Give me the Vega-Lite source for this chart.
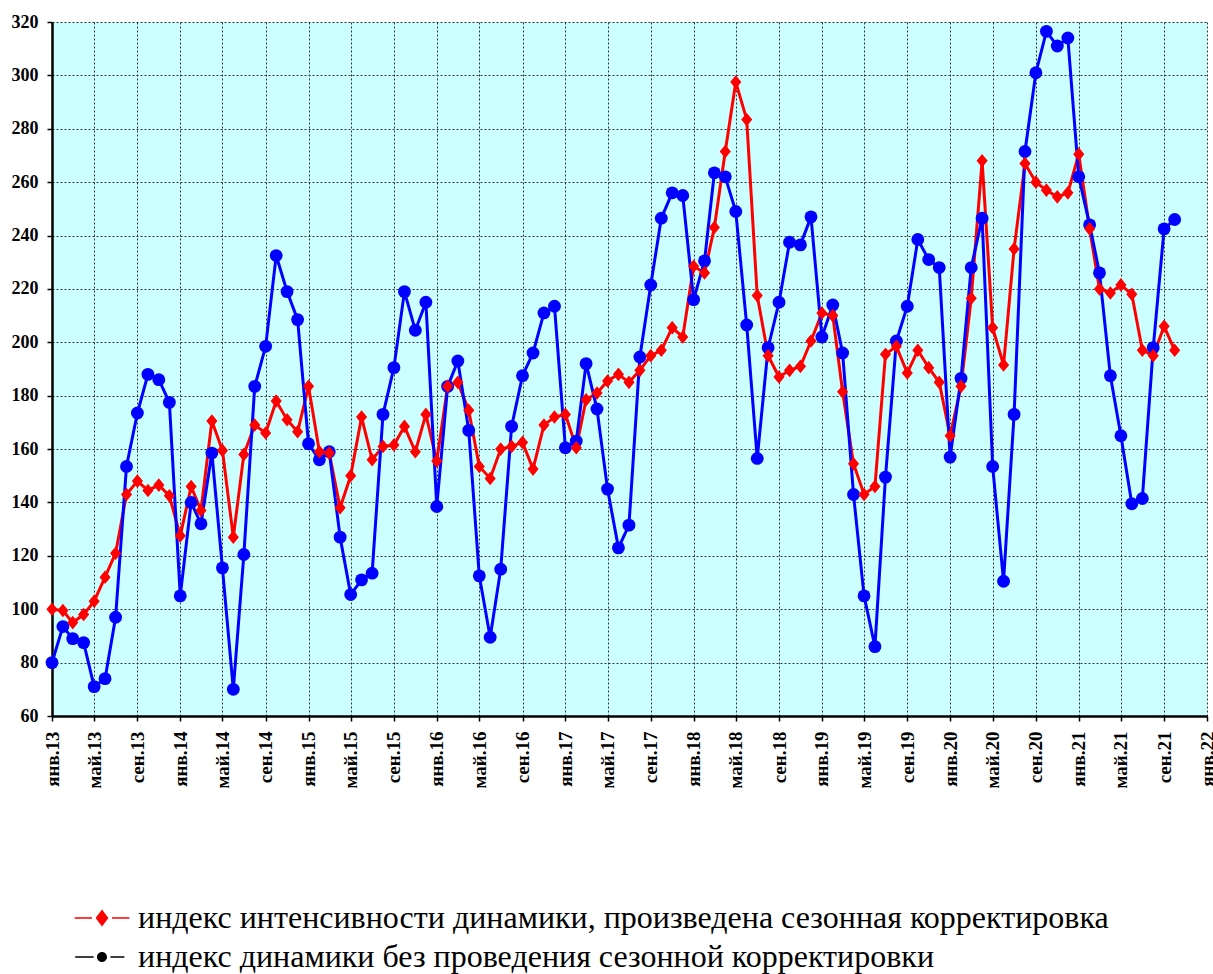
{
  "$schema": "https://vega.github.io/schema/vega-lite/v6.json",
  "width": 1155,
  "height": 694,
  "autosize": "none",
  "padding": {"left": 52, "top": 22, "right": 6, "bottom": 258},
  "background": "white",
  "config": {
    "view": {"fill": "#CCFFFF", "stroke": null},
    "axis": {
      "labelFont": "Liberation Serif, Times New Roman, Times, DejaVu Serif, serif",
      "labelFontWeight": "bold",
      "labelColor": "black",
      "tickColor": "black",
      "tickWidth": 1.5,
      "tickSize": 5,
      "domainColor": "black",
      "domainWidth": 2.5,
      "grid": true,
      "gridColor": "#333333",
      "gridDash": [2, 2],
      "gridWidth": 1,
      "title": null
    }
  },
  "data": {
    "values": [
      {"date": "2013-01-01", "seasonal": 100, "raw": 80},
      {"date": "2013-02-01", "seasonal": 99.5, "raw": 93.5},
      {"date": "2013-03-01", "seasonal": 95, "raw": 89},
      {"date": "2013-04-01", "seasonal": 98, "raw": 87.5},
      {"date": "2013-05-01", "seasonal": 103, "raw": 71},
      {"date": "2013-06-01", "seasonal": 112, "raw": 74},
      {"date": "2013-07-01", "seasonal": 121, "raw": 97},
      {"date": "2013-08-01", "seasonal": 143, "raw": 153.5},
      {"date": "2013-09-01", "seasonal": 148, "raw": 173.5},
      {"date": "2013-10-01", "seasonal": 144.5, "raw": 188},
      {"date": "2013-11-01", "seasonal": 146.5, "raw": 186},
      {"date": "2013-12-01", "seasonal": 142.5, "raw": 177.5},
      {"date": "2014-01-01", "seasonal": 127.5, "raw": 105},
      {"date": "2014-02-01", "seasonal": 146, "raw": 140},
      {"date": "2014-03-01", "seasonal": 137, "raw": 132},
      {"date": "2014-04-01", "seasonal": 170.5, "raw": 158.5},
      {"date": "2014-05-01", "seasonal": 159.5, "raw": 115.5},
      {"date": "2014-06-01", "seasonal": 127, "raw": 70},
      {"date": "2014-07-01", "seasonal": 158, "raw": 120.5},
      {"date": "2014-08-01", "seasonal": 169, "raw": 183.5},
      {"date": "2014-09-01", "seasonal": 166, "raw": 198.5},
      {"date": "2014-10-01", "seasonal": 178, "raw": 232.5},
      {"date": "2014-11-01", "seasonal": 171, "raw": 219},
      {"date": "2014-12-01", "seasonal": 166.5, "raw": 208.5},
      {"date": "2015-01-01", "seasonal": 183.5, "raw": 162},
      {"date": "2015-02-01", "seasonal": 159, "raw": 156},
      {"date": "2015-03-01", "seasonal": 158.5, "raw": 159},
      {"date": "2015-04-01", "seasonal": 138, "raw": 127},
      {"date": "2015-05-01", "seasonal": 150, "raw": 105.5},
      {"date": "2015-06-01", "seasonal": 172, "raw": 111},
      {"date": "2015-07-01", "seasonal": 156, "raw": 113.5},
      {"date": "2015-08-01", "seasonal": 161, "raw": 173},
      {"date": "2015-09-01", "seasonal": 161.5, "raw": 190.5},
      {"date": "2015-10-01", "seasonal": 168.5, "raw": 219},
      {"date": "2015-11-01", "seasonal": 159, "raw": 204.5},
      {"date": "2015-12-01", "seasonal": 173, "raw": 215},
      {"date": "2016-01-01", "seasonal": 155.5, "raw": 138.5},
      {"date": "2016-02-01", "seasonal": 183.5, "raw": 183.5},
      {"date": "2016-03-01", "seasonal": 185, "raw": 193},
      {"date": "2016-04-01", "seasonal": 174.5, "raw": 167},
      {"date": "2016-05-01", "seasonal": 153.5, "raw": 112.5},
      {"date": "2016-06-01", "seasonal": 149, "raw": 89.5},
      {"date": "2016-07-01", "seasonal": 160, "raw": 115},
      {"date": "2016-08-01", "seasonal": 161, "raw": 168.5},
      {"date": "2016-09-01", "seasonal": 162.5, "raw": 187.5},
      {"date": "2016-10-01", "seasonal": 152.5, "raw": 196},
      {"date": "2016-11-01", "seasonal": 169, "raw": 211},
      {"date": "2016-12-01", "seasonal": 172, "raw": 213.5},
      {"date": "2017-01-01", "seasonal": 173, "raw": 160.5},
      {"date": "2017-02-01", "seasonal": 160.5, "raw": 163},
      {"date": "2017-03-01", "seasonal": 178.5, "raw": 192},
      {"date": "2017-04-01", "seasonal": 181, "raw": 175},
      {"date": "2017-05-01", "seasonal": 185.5, "raw": 145},
      {"date": "2017-06-01", "seasonal": 188, "raw": 123},
      {"date": "2017-07-01", "seasonal": 185, "raw": 131.5},
      {"date": "2017-08-01", "seasonal": 189.5, "raw": 194.5},
      {"date": "2017-09-01", "seasonal": 195, "raw": 221.5},
      {"date": "2017-10-01", "seasonal": 197, "raw": 246.5},
      {"date": "2017-11-01", "seasonal": 205.5, "raw": 256},
      {"date": "2017-12-01", "seasonal": 202, "raw": 255},
      {"date": "2018-01-01", "seasonal": 228.5, "raw": 216},
      {"date": "2018-02-01", "seasonal": 226, "raw": 230.5},
      {"date": "2018-03-01", "seasonal": 243, "raw": 263.5},
      {"date": "2018-04-01", "seasonal": 271.5, "raw": 262},
      {"date": "2018-05-01", "seasonal": 297.5, "raw": 249},
      {"date": "2018-06-01", "seasonal": 283.5, "raw": 206.5},
      {"date": "2018-07-01", "seasonal": 217.5, "raw": 156.5},
      {"date": "2018-08-01", "seasonal": 195, "raw": 198},
      {"date": "2018-09-01", "seasonal": 187, "raw": 215},
      {"date": "2018-10-01", "seasonal": 189.5, "raw": 237.5},
      {"date": "2018-11-01", "seasonal": 191, "raw": 236.5},
      {"date": "2018-12-01", "seasonal": 200.5, "raw": 247},
      {"date": "2019-01-01", "seasonal": 211, "raw": 202},
      {"date": "2019-02-01", "seasonal": 210, "raw": 214},
      {"date": "2019-03-01", "seasonal": 181.5, "raw": 196},
      {"date": "2019-04-01", "seasonal": 154.5, "raw": 143},
      {"date": "2019-05-01", "seasonal": 143, "raw": 105},
      {"date": "2019-06-01", "seasonal": 146, "raw": 86},
      {"date": "2019-07-01", "seasonal": 195.5, "raw": 149.5},
      {"date": "2019-08-01", "seasonal": 198.5, "raw": 200.5},
      {"date": "2019-09-01", "seasonal": 188.5, "raw": 213.5},
      {"date": "2019-10-01", "seasonal": 197, "raw": 238.5},
      {"date": "2019-11-01", "seasonal": 190.5, "raw": 231},
      {"date": "2019-12-01", "seasonal": 185, "raw": 228},
      {"date": "2020-01-01", "seasonal": 165, "raw": 157},
      {"date": "2020-02-01", "seasonal": 183.5, "raw": 186.5},
      {"date": "2020-03-01", "seasonal": 216.5, "raw": 228},
      {"date": "2020-04-01", "seasonal": 268, "raw": 246.5},
      {"date": "2020-05-01", "seasonal": 205.5, "raw": 153.5},
      {"date": "2020-06-01", "seasonal": 191.5, "raw": 110.5},
      {"date": "2020-07-01", "seasonal": 235, "raw": 173},
      {"date": "2020-08-01", "seasonal": 267, "raw": 271.5},
      {"date": "2020-09-01", "seasonal": 260, "raw": 301},
      {"date": "2020-10-01", "seasonal": 257, "raw": 316.5},
      {"date": "2020-11-01", "seasonal": 254.5, "raw": 311},
      {"date": "2020-12-01", "seasonal": 256, "raw": 314},
      {"date": "2021-01-01", "seasonal": 270.5, "raw": 262},
      {"date": "2021-02-01", "seasonal": 242.5, "raw": 244},
      {"date": "2021-03-01", "seasonal": 220, "raw": 226},
      {"date": "2021-04-01", "seasonal": 218.5, "raw": 187.5},
      {"date": "2021-05-01", "seasonal": 221.5, "raw": 165},
      {"date": "2021-06-01", "seasonal": 218, "raw": 139.5},
      {"date": "2021-07-01", "seasonal": 197, "raw": 141.5},
      {"date": "2021-08-01", "seasonal": 195, "raw": 198},
      {"date": "2021-09-01", "seasonal": 206, "raw": 242.5},
      {"date": "2021-10-01", "seasonal": 197, "raw": 246}
    ]
  },
  "transform": [
    {"fold": ["seasonal", "raw"], "as": ["series", "value"]}
  ],
  "encoding": {
    "x": {
      "field": "date",
      "type": "temporal",
      "timeUnit": "utcyearmonth",
      "scale": {
        "type": "utc",
        "nice": false,
        "domain": [
          {"year": 2013, "month": 1, "date": 1, "utc": true},
          {"year": 2022, "month": 1, "date": 1, "utc": true}
        ]
      },
      "axis": {
        "values": [
          {"year": 2013, "month": 1, "date": 1, "utc": true},
          {"year": 2013, "month": 5, "date": 1, "utc": true},
          {"year": 2013, "month": 9, "date": 1, "utc": true},
          {"year": 2014, "month": 1, "date": 1, "utc": true},
          {"year": 2014, "month": 5, "date": 1, "utc": true},
          {"year": 2014, "month": 9, "date": 1, "utc": true},
          {"year": 2015, "month": 1, "date": 1, "utc": true},
          {"year": 2015, "month": 5, "date": 1, "utc": true},
          {"year": 2015, "month": 9, "date": 1, "utc": true},
          {"year": 2016, "month": 1, "date": 1, "utc": true},
          {"year": 2016, "month": 5, "date": 1, "utc": true},
          {"year": 2016, "month": 9, "date": 1, "utc": true},
          {"year": 2017, "month": 1, "date": 1, "utc": true},
          {"year": 2017, "month": 5, "date": 1, "utc": true},
          {"year": 2017, "month": 9, "date": 1, "utc": true},
          {"year": 2018, "month": 1, "date": 1, "utc": true},
          {"year": 2018, "month": 5, "date": 1, "utc": true},
          {"year": 2018, "month": 9, "date": 1, "utc": true},
          {"year": 2019, "month": 1, "date": 1, "utc": true},
          {"year": 2019, "month": 5, "date": 1, "utc": true},
          {"year": 2019, "month": 9, "date": 1, "utc": true},
          {"year": 2020, "month": 1, "date": 1, "utc": true},
          {"year": 2020, "month": 5, "date": 1, "utc": true},
          {"year": 2020, "month": 9, "date": 1, "utc": true},
          {"year": 2021, "month": 1, "date": 1, "utc": true},
          {"year": 2021, "month": 5, "date": 1, "utc": true},
          {"year": 2021, "month": 9, "date": 1, "utc": true},
          {"year": 2022, "month": 1, "date": 1, "utc": true}
        ],
        "labelExpr": "['янв.','фев.','мар.','апр.','май.','июн.','июл.','авг.','сен.','окт.','ноя.','дек.'][utcmonth(datum.value)] + utcFormat(datum.value, '%y')",
        "labelAngle": 270,
        "labelAlign": "right",
        "labelBaseline": "middle",
        "labelFontSize": 19,
        "labelPadding": 10,
        "labelOverlap": false,
        "labelFlush": false
      }
    },
    "y": {
      "field": "value",
      "type": "quantitative",
      "scale": {"domain": [60, 320], "nice": false, "zero": false},
      "axis": {
        "values": [60, 80, 100, 120, 140, 160, 180, 200, 220, 240, 260, 280, 300, 320],
        "labelFontSize": 18,
        "labelPadding": 9,
        "labelFlush": false
      }
    }
  },
  "layer": [
    {
      "mark": {"type": "line", "strokeWidth": 3},
      "encoding": {
        "stroke": {
          "field": "series",
          "type": "nominal",
          "sort": ["seasonal", "raw"],
          "scale": {"domain": ["seasonal", "raw"], "range": ["#FF0000", "#0000FF"]},
          "legend": {
            "orient": "none",
            "legendX": 30,
            "legendY": 876,
            "title": null,
            "direction": "vertical",
            "labelFont": "Liberation Serif, Times New Roman, Times, DejaVu Serif, serif",
            "labelFontSize": 32,
            "labelColor": "black",
            "labelOffset": 16,
            "rowPadding": 3,
            "symbolSize": 1600,
            "symbolStrokeWidth": 0,
            "labelExpr": "datum.value == 'seasonal' ? 'индекс интенсивности динамики, произведена сезонная корректировка' : 'индекс динамики без проведения сезонной корректировки'",
            "labelLimit": 0,
            "encode": {
              "symbols": {
                "update": {
                  "shape": {"signal": "datum.value == 'seasonal' ? 'M-1.37,-0.035H-0.5V0.035H-1.37Z M0.5,-0.035H1.37V0.035H0.5Z M0,-0.42L0.32,0L0,0.42L-0.32,0Z' : 'M-1.34,-0.035H-0.42V0.035H-1.34Z M0.42,-0.035H1.12V0.035H0.42Z M0.25,0A0.25,0.25 0 1,1 -0.25,0A0.25,0.25 0 1,1 0.25,0Z'"},
                  "fill": {"signal": "datum.value == 'seasonal' ? '#FF0000' : '#000000'"},
                  "fillOpacity": {"value": 1},
                  "stroke": {"value": "transparent"},
                  "strokeWidth": {"value": 0},
                  "opacity": {"value": 1}
                }
              }
            }
          }
        }
      }
    },
    {
      "transform": [{"filter": "datum.series == 'raw'"}],
      "mark": {"type": "point", "shape": "circle", "filled": true, "size": 165, "opacity": 1, "color": "#0000FF"}
    },
    {
      "transform": [{"filter": "datum.series == 'seasonal'"}],
      "mark": {"type": "point", "shape": "M0,-1L0.82,0L0,1L-0.82,0Z", "filled": true, "size": 185, "opacity": 1, "color": "#FF0000"}
    }
  ]
}
